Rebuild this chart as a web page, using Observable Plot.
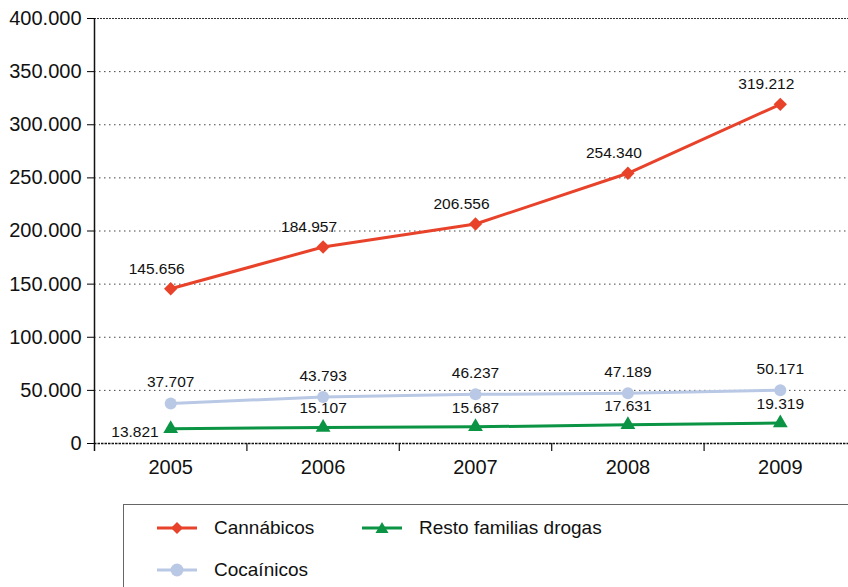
<!DOCTYPE html>
<html>
<head>
<meta charset="utf-8">
<script src="https://cdn.jsdelivr.net/npm/d3@7"></script>
<script src="https://cdn.jsdelivr.net/npm/@observablehq/plot@0.6"></script>
<style>
  html, body { margin: 0; padding: 0; background: #fff; overflow: hidden; }
  body { width: 848px; height: 587px; position: relative; font-family: "Liberation Sans", Arial, Helvetica, sans-serif; }
  #chart { position: absolute; left: 0; top: 0; }
  #legend { position: absolute; left: 123px; top: 504px; width: 760px; height: 120px; border: 1px solid #666; box-sizing: border-box; background: #fff; }
  .item { position: absolute; display: flex; align-items: center; font-size: 19px; color: #111; }
  .item svg { margin-right: 17px; }
</style>
</head>
<body>
<div id="chart"></div>
<div id="legend"></div>
<script>
const years = [2005, 2006, 2007, 2008, 2009];
const cannabicos = [145656, 184957, 206556, 254340, 319212];
const cocainicos = [37707, 43793, 46237, 47189, 50171];
const resto = [13821, 15107, 15687, 17631, 19319];
const yTicks = [0, 50000, 100000, 150000, 200000, 250000, 300000, 350000, 400000];
const seriesNames = ["Cannábicos", "Cocaínicos", "Resto familias drogas"];
const colors = {"Cannábicos": "#e8432a", "Cocaínicos": "#b9c9e5", "Resto familias drogas": "#0b9444"};

const fmt = d => d3.format(",")(d).replace(/,/g, ".");
const mk = (name, vals) => years.map((y, i) => ({year: y, value: vals[i], series: name, i}));
const dC = mk("Cannábicos", cannabicos);
const dK = mk("Cocaínicos", cocainicos);
const dR = mk("Resto familias drogas", resto);
const innerBounds = years.slice(0, -1).map(y => y + 0.5);

const font = "Liberation Sans, Arial, Helvetica, sans-serif";

const plot = Plot.plot({
  width: 848,
  height: 500,
  marginLeft: 94,
  marginRight: 0,
  marginTop: 18,
  marginBottom: 57,
  style: {fontFamily: font, background: "transparent", overflow: "visible"},
  x: {domain: [years[0] - 0.5, years[years.length - 1] + 0.5], range: [94, 856]},
  y: {domain: [0, 400000], range: [443, 18]},
  marks: [
    Plot.ruleY(yTicks.filter(t => t > 0 && t < 400000), {stroke: "#444", strokeDasharray: "1.5,3.5", strokeWidth: 1}),
    Plot.ruleY([400000], {stroke: "#333", strokeDasharray: "2,1", strokeWidth: 1.2}),
    Plot.ruleY([0], {stroke: "#111", strokeDasharray: "2.5,1", strokeWidth: 1.4}),
    Plot.ruleX([years[0] - 0.5], {y1: 400000, y2: 0, insetBottom: -8, stroke: "#111", strokeWidth: 1.5}),
    Plot.ruleX(innerBounds, {y1: 0, y2: 0, insetBottom: -8, stroke: "#111", strokeWidth: 1.2}),
    Plot.axisY({ticks: yTicks, tickSize: 7, tickPadding: 6, tickFormat: fmt, fontSize: 20, fill: "#111", label: null}),
    Plot.axisX({ticks: years, tickSize: 0, tickPadding: 16, tickFormat: d => String(d), fontSize: 20, fill: "#111", label: null}),
    Plot.line(dR, {x: "year", y: "value", stroke: colors["Resto familias drogas"], strokeWidth: 3}),
    Plot.line(dK, {x: "year", y: "value", stroke: colors["Cocaínicos"], strokeWidth: 3}),
    Plot.line(dC, {x: "year", y: "value", stroke: colors["Cannábicos"], strokeWidth: 3}),
    Plot.dot(dR, {x: "year", y: "value", symbol: "triangle", r: 5.5, fill: colors["Resto familias drogas"], stroke: "none"}),
    Plot.dot(dK, {x: "year", y: "value", symbol: "circle", r: 6, fill: colors["Cocaínicos"], stroke: "none"}),
    Plot.dot(dC, {x: "year", y: "value", symbol: "diamond2", r: 6, fill: colors["Cannábicos"], stroke: "none"}),
    Plot.text(dC, {x: "year", y: "value", text: d => fmt(d.value), dx: -14, dy: -20, fontSize: 15.5, fill: "#111"}),
    Plot.text(dK, {x: "year", y: "value", text: d => fmt(d.value), dy: -21, fontSize: 15.5, fill: "#111"}),
    Plot.text(dR.filter(d => d.i === 0), {x: "year", y: "value", text: d => fmt(d.value), dx: -12, dy: 3, textAnchor: "end", fontSize: 15.5, fill: "#111"}),
    Plot.text(dR.filter(d => d.i > 0), {x: "year", y: "value", text: d => fmt(d.value), dy: -19, fontSize: 15.5, fill: "#111"})
  ]
});
document.getElementById("chart").appendChild(plot);

// Legend
const legend = document.getElementById("legend");
const legendItems = [
  {name: "Cannábicos", left: 33, top: 12},
  {name: "Resto familias drogas", left: 238, top: 12},
  {name: "Cocaínicos", left: 33, top: 54}
];
const symPath = {
  "Cannábicos": '<path d="M20,5 L26,11 L20,17 L14,11 Z" fill="COL"/>',
  "Cocaínicos": '<circle cx="20" cy="11" r="6.5" fill="COL"/>',
  "Resto familias drogas": '<path d="M20,5 L26.5,16 L13.5,16 Z" fill="COL"/>'
};
for (const it of legendItems) {
  const c = colors[it.name];
  const div = document.createElement("div");
  div.className = "item";
  div.style.left = it.left + "px";
  div.style.top = it.top + "px";
  div.innerHTML = `<svg width="40" height="22"><line x1="0" x2="40" y1="11" y2="11" stroke="${c}" stroke-width="3"/>${symPath[it.name].replace("COL", c)}</svg><span>${it.name}</span>`;
  legend.appendChild(div);
}
</script>
</body>
</html>
